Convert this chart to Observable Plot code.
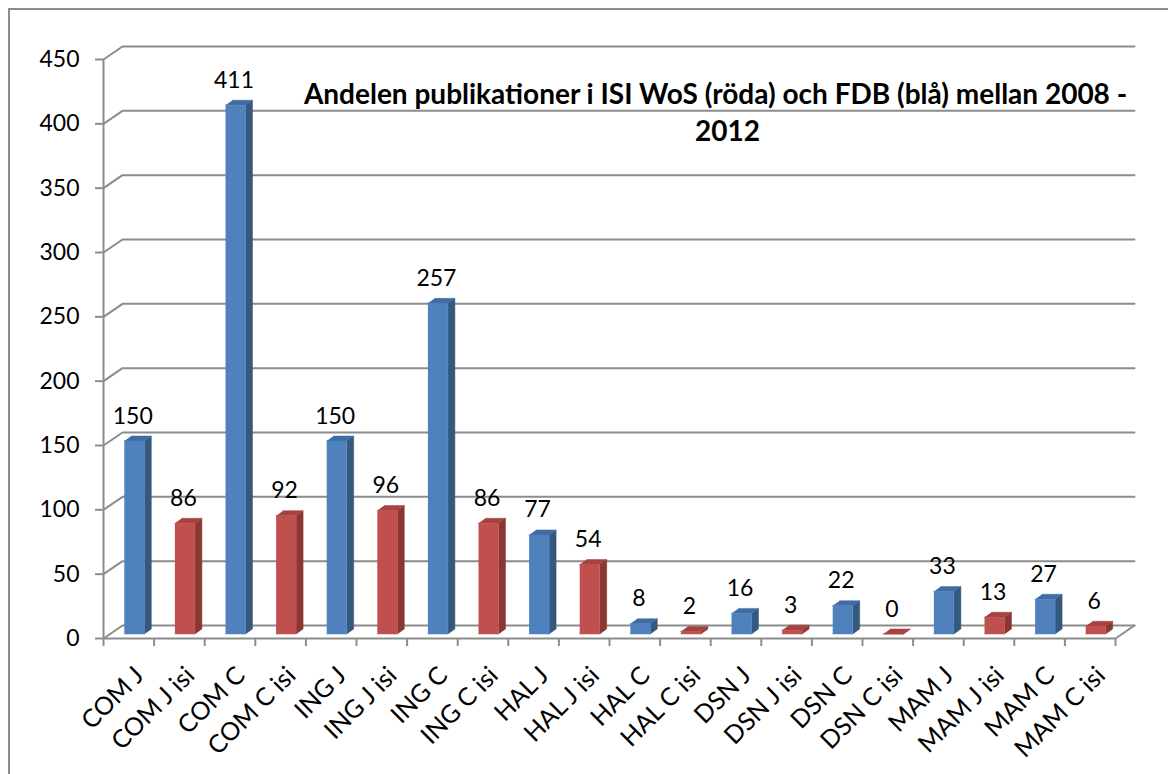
<!DOCTYPE html>
<html>
<head>
<meta charset="utf-8">
<script src="https://cdn.jsdelivr.net/npm/d3@7"></script>
<script src="https://cdn.jsdelivr.net/npm/@observablehq/plot@0.6"></script>
<style>
  html, body { margin: 0; padding: 0; background: #fff; }
  #wrap { position: relative; width: 1168px; height: 774px; overflow: hidden; }
  #border { position: absolute; left: 8px; top: 8px; width: 1200px; height: 800px;
            border-left: 2px solid #8c8c8c; border-top: 2px solid #8c8c8c; box-sizing: border-box; }
  #chart { position: absolute; left: 0; top: 0; }
</style>
</head>
<body>
<div id="wrap"><div id="border"></div><div id="chart"></div></div>
<script>
// ---- data ----
const categories = ["COM J","COM J isi","COM C","COM C isi","ING J","ING J isi","ING C","ING C isi",
  "HAL J","HAL J isi","HAL C","HAL C isi","DSN J","DSN J isi","DSN C","DSN C isi",
  "MAM J","MAM J isi","MAM C","MAM C isi"];
const values = [150, 86, 411, 92, 150, 96, 257, 86, 77, 54, 8, 2, 16, 3, 22, 0, 33, 13, 27, 6];
const yTicks = [0, 50, 100, 150, 200, 250, 300, 350, 400, 450];
const titleLines = ["Andelen publikationer i ISI WoS (röda) och FDB (blå) mellan 2008 -", "2012"];

// ---- layout / style ----
const W = 1168, H = 774;
const mL = 103, mR = 53, mT = 59, mB = 136;
const n = categories.length;
const kx = n / (W - mL - mR);        // data units per px (x)
const ky = 450 / (H - mT - mB);      // data units per px (y)
const wallDX = 19 * kx, wallDY = 13 * ky;   // back-wall depth
const barDX = 7 * kx, barDY = 5 * ky;       // bar depth
const barShift = 5.5, barHalf = 10, baseBack = 4.5;
const gray = "#8c8c8c";
const pal = {
  blue: {front: "#4F81BD", side: "#35587F", top: "#3F6CA4"},
  red:  {front: "#C0504D", side: "#8A3734", top: "#A6423F"}
};

const rows = categories.map((c, i) => ({cat: c, i, v: values[i], c: i + 0.5,
  col: c.endsWith("isi") ? pal.red : pal.blue}));

// polygons for the 3D bars
const faces = [];
rows.forEach(r => {
  const L = r.c + (barShift - barHalf) * kx, R = r.c + (barShift + barHalf) * kx;
  const b = baseBack * ky, t = b + r.v;
  const add = (id, color, pts) => pts.forEach(([x, y]) => faces.push({id, color, x, y}));
  add(r.i + "s", r.col.side, [[R, b], [R + barDX, b + barDY], [R + barDX, t + barDY], [R, t]]);
  add(r.i + "t", r.col.top, [[L, t], [R, t], [R + barDX, t + barDY], [L + barDX, t + barDY]]);
  add(r.i + "f", r.col.front, [[L, b], [R, b], [R, t], [L, t]]);
});

// back-wall gridlines
const grid = [];
yTicks.forEach(v => {
  grid.push({id: v, x: 0, y: v});
  grid.push({id: v, x: wallDX, y: v + wallDY});
  grid.push({id: v, x: n + wallDX, y: v + wallDY});
});
const floor = [{x: 0, y: 0}, {x: n, y: 0}, {x: n + wallDX, y: wallDY}];

const chart = Plot.plot({
  width: W, height: H,
  marginLeft: mL, marginRight: mR, marginTop: mT, marginBottom: mB,
  x: {type: "linear", domain: [0, n]},
  y: {type: "linear", domain: [0, 450]},
  color: {type: "identity"},
  style: {fontFamily: "Lato, 'Open Sans', sans-serif", background: "transparent", overflow: "visible", color: "#000"},
  marks: [
    Plot.line(grid, {x: "x", y: "y", z: "id", stroke: gray, strokeWidth: 2}),
    Plot.line(floor, {x: "x", y: "y", stroke: gray, strokeWidth: 2}),
    Plot.ruleX([0], {y1: 0, y2: 450, stroke: gray, strokeWidth: 2}),
    Plot.axisY({ticks: yTicks, tickSize: 8, tickPadding: 16, fontSize: 23, stroke: gray, strokeWidth: 2, fill: "#000"}),
    Plot.axisX({ticks: d3.range(n + 1), tickSize: 8, tickFormat: () => "", stroke: gray, strokeWidth: 2}),
    Plot.axisX({ticks: rows.map(r => r.c), tickFormat: d => categories[Math.floor(d)],
      tickSize: 0, tickPadding: 0, tickRotate: -45, textAnchor: "end", lineAnchor: "top",
      dx: 4, dy: 26, fontSize: 25, fill: "#000"}),
    Plot.line(faces, {x: "x", y: "y", z: "id", fill: "color", stroke: "color", strokeWidth: 0.5}),
    Plot.text(rows, {x: "c", y: "v", text: d => String(d.v), dx: 4, dy: -22, lineAnchor: "bottom",
      fontSize: 23, fill: "#000"}),
    Plot.text([titleLines[0]], {frameAnchor: "top-left", dx: 612, dy: 44, lineAnchor: "bottom",
      textAnchor: "middle", fontSize: 28, fontWeight: "bold", fill: "#000"}),
    Plot.text([titleLines[1]], {frameAnchor: "top-left", dx: 624, dy: 81, lineAnchor: "bottom",
      textAnchor: "middle", fontSize: 28, fontWeight: "bold", fill: "#000"})
  ]
});
document.getElementById("chart").appendChild(chart);
</script>
</body>
</html>
